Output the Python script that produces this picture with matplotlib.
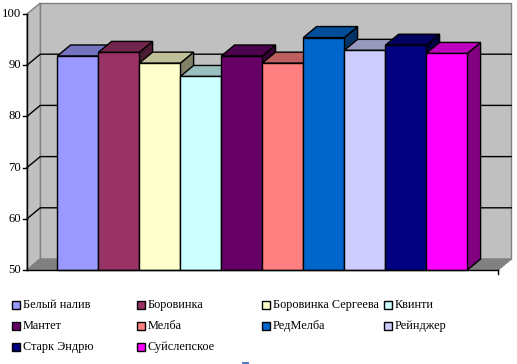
import matplotlib
matplotlib.use("Agg")
import matplotlib.pyplot as plt
from matplotlib.patches import Polygon, Rectangle
from matplotlib.colors import to_rgb

categories = ["Белый налив", "Боровинка", "Боровинка Сергеева", "Квинти",
              "Мантет", "Мелба", "РедМелба", "Рейнджер",
              "Старк Эндрю", "Суйслепское"]
values = [91.8, 92.5, 90.4, 87.8, 91.8, 90.4, 95.4, 92.9, 93.9, 92.3]
colors = ["#9999FF", "#993366", "#FFFFCC", "#CCFFFF", "#660066",
          "#FF8080", "#0066CC", "#CCCCFF", "#000080", "#FF00FF"]
yticks = [50, 60, 70, 80, 90, 100]

W, H = 517, 364
fig = plt.figure(figsize=(W / 100, H / 100), dpi=100)
fig.patch.set_facecolor("white")

# front plot area in pixels: x 27..498, y 14..270
ax = fig.add_axes([27 / W, (H - 270) / H, 471 / W, 256 / H])
ax.set_axis_off()
n = len(categories)
xl = -0.5 - 30.3 / 41
xr = (n - 0.5) + 30.7 / 41
ymin, ymax = 50, 100
ax.set_xlim(xl, xr)
ax.set_ylim(ymin, ymax)

px_x = 41.0            # pixels per category unit
px_y = 256.0 / 50      # pixels per value unit
dx = 13.3 / px_x
dy = 11.0 / px_y

def shade(c, f):
    r, g, b = to_rgb(c)
    return (r * f, g * f, b * f)

# walls and floor
ax.add_patch(Polygon([(xl + dx, ymin + dy), (xr + dx, ymin + dy), (xr + dx, ymax + dy), (xl + dx, ymax + dy)],
                     closed=True, facecolor="#C0C0C0", edgecolor="#808080", lw=1, clip_on=False, zorder=1))
ax.add_patch(Polygon([(xl, ymin), (xl + dx, ymin + dy), (xl + dx, ymax + dy), (xl, ymax)],
                     closed=True, facecolor="#C0C0C0", edgecolor="#808080", lw=1, clip_on=False, zorder=1))
ax.add_patch(Polygon([(xl, ymin), (xr, ymin), (xr + dx, ymin + dy), (xl + dx, ymin + dy)],
                     closed=True, facecolor="#808080", edgecolor="#808080", lw=1, clip_on=False, zorder=1))

# gridlines
for v in yticks[1:-1]:
    ax.plot([xl, xl + dx, xr + dx], [v, v + dy, v + dy], color="black", lw=1, clip_on=False, zorder=2)

# bars
for i, (v, c) in enumerate(zip(values, colors)):
    x0, x1 = i - 0.5, i + 0.5
    z = 3 + i
    ax.add_patch(Polygon([(x1, ymin), (x1 + dx, ymin + dy), (x1 + dx, v + dy), (x1, v)],
                         closed=True, facecolor=shade(c, 0.5), edgecolor="black", lw=1, clip_on=False, zorder=z))
    ax.add_patch(Polygon([(x0, v), (x1, v), (x1 + dx, v + dy), (x0 + dx, v + dy)],
                         closed=True, facecolor=shade(c, 0.75), edgecolor="black", lw=1, clip_on=False, zorder=z))
    ax.add_patch(Rectangle((x0, ymin), 1, v - ymin, facecolor=c, edgecolor="black", lw=1,
                           clip_on=False, zorder=z))

# front axes
ax.plot([xl, xl], [ymin, ymax], color="black", lw=1, clip_on=False, zorder=20)
ax.plot([xl, xr], [ymin, ymin], color="black", lw=1, clip_on=False, zorder=20)
tick_len = 4 / px_x
for v in yticks:
    ax.plot([xl - tick_len, xl], [v, v], color="black", lw=1, clip_on=False, zorder=20)
    ax.text(xl - 6 / px_x, v, str(v), ha="right", va="center", fontsize=9.2,
            family="Liberation Serif", clip_on=False)
ax.plot([xr, xr], [ymin, ymin - 4 / px_y], color="black", lw=1, clip_on=False, zorder=20)

# legend (manual, uniform columns like the original)
col_x = [12, 137, 262, 384]
row_y = [305, 326, 347]
for k, (name, c) in enumerate(zip(categories, colors)):
    r, cc = divmod(k, 4)
    x = col_x[cc]
    y = row_y[r]
    fig.patches.append(Rectangle((x / W, (H - y - 4) / H), 8 / W, 8 / H, facecolor=c, edgecolor="black",
                                 lw=1, transform=fig.transFigure, figure=fig))
    fig.text((x + 11) / W, (H - y) / H, name, ha="left", va="center", fontsize=8.8,
             family="Liberation Serif")

# small clipped fragment at the bottom
fig.patches.append(Rectangle((242 / W, 0), 7 / W, 2.5 / H, facecolor="#4F7FC0", edgecolor="none",
                             transform=fig.transFigure, figure=fig))

fig.savefig("out.png", dpi=100)
